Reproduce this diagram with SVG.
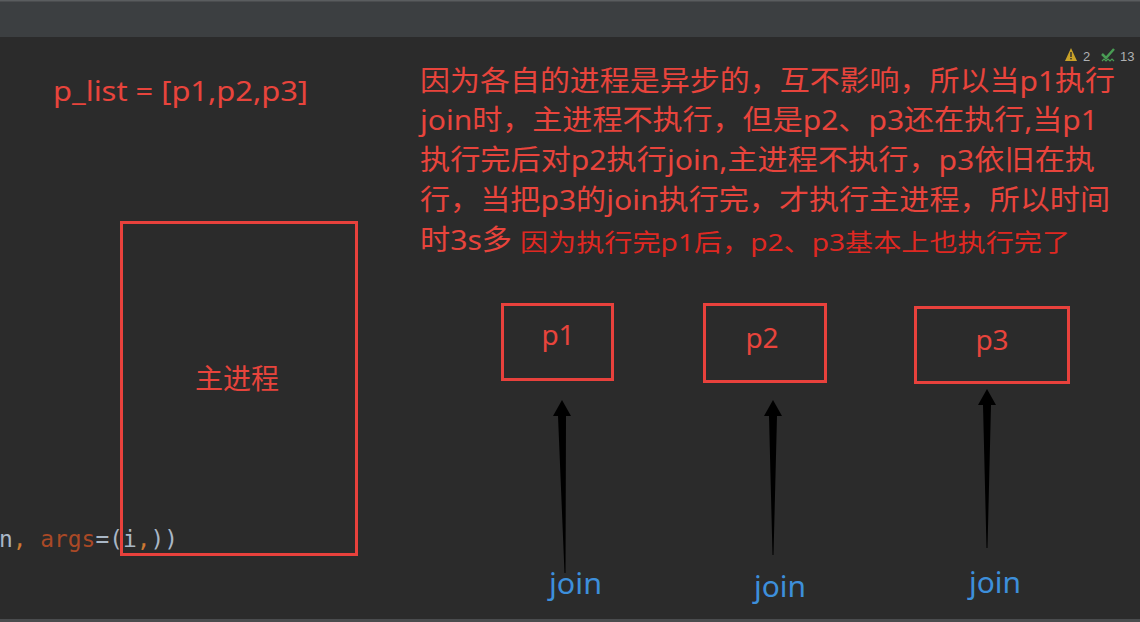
<svg xmlns="http://www.w3.org/2000/svg" width="1140" height="622" viewBox="0 0 1140 622">
<style>
.red{fill:#e8443c;font-family:"Noto Sans","Noto Sans CJK SC",sans-serif;font-size:28px}
.red2{fill:#df2822;font-family:"Noto Sans","Noto Sans CJK SC",sans-serif;font-size:24px}
.box{fill:none;stroke:#e8413c;stroke-width:3}
.join{fill:#3d8fdb;font-family:"Noto Sans",sans-serif;font-size:29px}
.code{font-family:"DejaVu Sans Mono","Liberation Mono",monospace;font-size:23px}
.arrow{fill:#000}
</style>
<rect x="0" y="0" width="1140" height="622" fill="#2b2b2b"/>
<rect x="0" y="0" width="1140" height="37" fill="#3c3f41"/>
<rect x="0" y="0" width="1140" height="1.5" fill="#5a5d5f"/>
<rect x="0" y="619" width="1140" height="3" fill="#4a4c4e"/>
<g id="status">
<polygon points="1071,48 1077,61 1065,61" fill="#c9a228"/>
<rect x="1070.3" y="52" width="1.4" height="5" fill="#2b2b2b"/>
<rect x="1070.3" y="58" width="1.4" height="1.4" fill="#2b2b2b"/>
<text x="1083" y="61" fill="#afb1b3" font-family="Liberation Sans,sans-serif" font-size="13">2</text>
<path d="M1102,54 L1106,58 L1114,49" fill="none" stroke="#499c54" stroke-width="2.5"/>
<path d="M1102,61 l2,-2 l2,2 l2,-2 l2,2 l2,-2 l2,2" fill="none" stroke="#499c54" stroke-width="1.2"/>
<text x="1120" y="61" fill="#afb1b3" font-family="Liberation Sans,sans-serif" font-size="13">13</text>
</g>
<g id="plist"><text class="red" x="53" y="101" textLength="255" lengthAdjust="spacingAndGlyphs">p_list = [p1,p2,p3]</text></g>
<g id="note">
<text class="red" x="420" y="91" textLength="695" lengthAdjust="spacingAndGlyphs">因为各自的进程是异步的，互不影响，所以当p1执行</text>
<text class="red" x="420" y="130" textLength="678" lengthAdjust="spacingAndGlyphs">join时，主进程不执行，但是p2、p3还在执行,当p1</text>
<text class="red" x="420" y="170" textLength="675" lengthAdjust="spacingAndGlyphs">执行完后对p2执行join,主进程不执行，p3依旧在执</text>
<text class="red" x="420" y="210" textLength="690" lengthAdjust="spacingAndGlyphs">行，当把p3的join执行完，才执行主进程，所以时间</text>
<text class="red" x="420" y="250" textLength="92" lengthAdjust="spacingAndGlyphs">时3s多</text>
<text class="red2" x="520" y="251" textLength="550" lengthAdjust="spacingAndGlyphs">因为执行完p1后，p2、p3基本上也执行完了</text>
</g>
<g id="code"><text class="code" x="-1" y="547" textLength="179" lengthAdjust="spacingAndGlyphs"><tspan fill="#a9b7c6">n</tspan><tspan fill="#cc7832">, </tspan><tspan fill="#aa4926">args</tspan><tspan fill="#a9b7c6">=(i</tspan><tspan fill="#cc7832">,</tspan><tspan fill="#a9b7c6">))</tspan></text></g>
<g id="main">
<rect class="box" x="121.5" y="222.5" width="235" height="332"/>
<text class="red" x="237" y="389" text-anchor="middle" font-size="30">主进程</text>
</g>
<g id="p1">
<rect class="box" x="502.5" y="304.5" width="110" height="75"/>
<text class="red" x="558" y="345" text-anchor="middle" font-size="30">p1</text>
</g>
<g id="p2">
<rect class="box" x="704.5" y="304.5" width="121" height="77"/>
<text class="red" x="762" y="348" text-anchor="middle" font-size="30">p2</text>
</g>
<g id="p3">
<rect class="box" x="915.5" y="307.5" width="153" height="75"/>
<text class="red" x="992" y="350" text-anchor="middle" font-size="30">p3</text>
</g>
<g id="connectors">
<polygon class="arrow" points="562,400 571,416 566,416 565.5,573 564.5,573 558,416 553,416"/>
<polygon class="arrow" points="773,400 782,416 777,416 773.5,555 772.5,555 769,416 764,416"/>
<polygon class="arrow" points="987,389 996,405 991,405 987.5,548 986.5,548 983,405 978,405"/>
</g>
<g id="joins">
<text class="join" x="549" y="594" textLength="53" lengthAdjust="spacingAndGlyphs">join</text>
<text class="join" x="754" y="597" textLength="52" lengthAdjust="spacingAndGlyphs">join</text>
<text class="join" x="969" y="593" textLength="52" lengthAdjust="spacingAndGlyphs">join</text>
</g>
</svg>
